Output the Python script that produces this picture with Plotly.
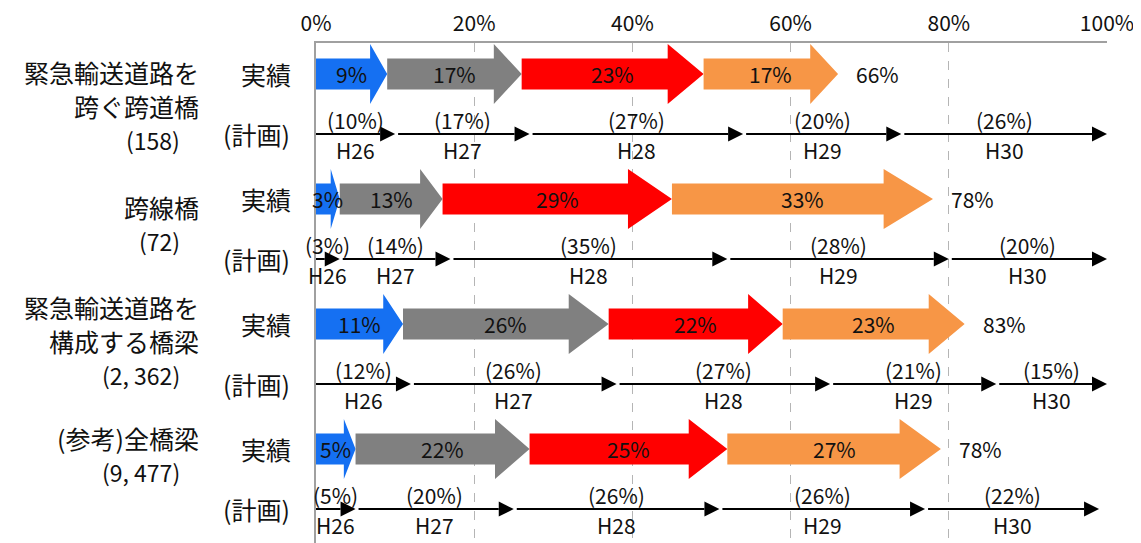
import plotly.graph_objects as go

# ---- data ----
categories = [["緊急輸送道路を", "跨ぐ跨道橋"], ["跨線橋"], ["緊急輸送道路を", "構成する橋梁"], ["(参考)全橋梁"]]
counts = ["(158)", "(72)", "(2, 362)", "(9, 477)"]
years = ["H26", "H27", "H28", "H29", "H30"]
actual_vals = [[9, 17, 23, 17], [3, 13, 29, 33], [11, 26, 22, 23], [5, 22, 25, 27]]
actual_totals = [66, 78, 83, 78]
plan_vals = [[10, 17, 27, 20, 26], [3, 14, 35, 28, 20], [12, 26, 27, 21, 15], [5, 20, 26, 26, 22]]
x_ticks = [0, 20, 40, 60, 80, 100]

# ---- styles / layout constants ----
colors = ["#1570F2", "#808080", "#FF0000", "#F79646"]
WIN_W, WIN_H = 1141, 543
OFF = 8  # page body margin offset
W, H = WIN_W - OFF, WIN_H - OFF
PLOT_L, PLOT_R, PLOT_T, PLOT_B = 316, 1107, 43, 543  # plot area in window pixels
L = PLOT_L - OFF
T = PLOT_T - OFF
R = W - (PLOT_R - OFF)
B = H - (PLOT_B - OFF)
PW = PLOT_R - PLOT_L
PX = PW / 100.0  # pixels per percent
NUM_FONT = "Noto Sans CJK JP"
JP_FONT = "Noto Sans CJK JP"
NUM_SIZE = 21
row_y0, row_step, plan_off = 74, 125, 60
label_top = [72, 207, 307, 438]
line_gap = 34


def px2paper(px):
    return (px - PLOT_L) / PW


fig = go.Figure()
fig.add_trace(go.Scatter(x=[None], y=[None], showlegend=False, hoverinfo="skip"))

shapes = []
annotations = []

for i in range(len(actual_vals)):
    ya = row_y0 + row_step * i
    yp = ya + plan_off

    # actual arrows
    cum = 0
    for j, v in enumerate(actual_vals[i]):
        x0, x1 = cum, cum + v
        h = min(0.17 * v + 0.63, 0.8 * v)
        xb = x1 - h
        bh, hh = 15.5, 30
        path = (f"M {x0},{ya - bh} L {xb},{ya - bh} L {xb},{ya - hh} L {x1},{ya} "
                f"L {xb},{ya + hh} L {xb},{ya + bh} L {x0},{ya + bh} Z")
        shapes.append(dict(type="path", path=path, xref="x", yref="y",
                           fillcolor=colors[j], line=dict(width=0), layer="above"))
        annotations.append(dict(x=(x0 + x1) / 2, y=ya, xref="x", yref="y", text=f"{v}%",
                                showarrow=False, font=dict(family=NUM_FONT, size=NUM_SIZE, color="#111")))
        cum = x1
    annotations.append(dict(x=cum + 16 / PX, y=ya, xref="x", yref="y", text=f"{actual_totals[i]}%",
                            xanchor="left", showarrow=False,
                            font=dict(family=NUM_FONT, size=NUM_SIZE, color="#111")))

    # plan arrows
    cum = 0
    for j, v in enumerate(plan_vals[i]):
        x0, x1 = cum, min(cum + v, 100)
        hl = 15 / PX
        start = x0 + (3 / PX if j > 0 else 0)
        shapes.append(dict(type="line", x0=start, x1=x1 - hl, y0=yp, y1=yp, xref="x", yref="y",
                           line=dict(color="#000", width=2), layer="above"))
        shapes.append(dict(type="path", path=f"M {x1 - hl},{yp - 7.5} L {x1},{yp} L {x1 - hl},{yp + 7.5} Z",
                           xref="x", yref="y", fillcolor="#000", line=dict(width=0), layer="above"))
        mid = (x0 + x1) / 2
        annotations.append(dict(x=mid, y=yp - 14, xref="x", yref="y", text=f"({v}%)",
                                showarrow=False, font=dict(family=NUM_FONT, size=NUM_SIZE, color="#111")))
        annotations.append(dict(x=mid, y=yp + 16, xref="x", yref="y", text=years[j],
                                showarrow=False, font=dict(family=NUM_FONT, size=NUM_SIZE, color="#111")))
        cum = cum + v

    # row labels (paper x so they show outside the axis range)
    annotations.append(dict(x=px2paper(293), y=ya, xref="paper", yref="y", text="実績", xanchor="right",
                            showarrow=False, font=dict(family=JP_FONT, size=25, color="#111")))
    annotations.append(dict(x=px2paper(292), y=yp, xref="paper", yref="y", text="(計画)", xanchor="right",
                            showarrow=False, font=dict(family=JP_FONT, size=25, color="#111")))
    lines = categories[i]
    for k, t in enumerate(lines):
        annotations.append(dict(x=px2paper(201), y=label_top[i] + line_gap * k, xref="paper", yref="y",
                                text=t, xanchor="right", showarrow=False,
                                font=dict(family=JP_FONT, size=25, color="#111")))
    annotations.append(dict(x=px2paper(182), y=label_top[i] + line_gap * len(lines), xref="paper", yref="y",
                            text=counts[i], xanchor="right", showarrow=False,
                            font=dict(family=JP_FONT, size=23, color="#111")))

fig.update_layout(
    width=W, height=H,
    margin=dict(l=L, r=R, t=T, b=B, autoexpand=False),
    paper_bgcolor="white", plot_bgcolor="white",
    showlegend=False,
    shapes=shapes, annotations=annotations,
    xaxis=dict(range=[0, 100], side="top", tickvals=x_ticks, ticktext=[f"{v}%" for v in x_ticks],
               showgrid=True, gridcolor="#b5b5b5", griddash="dash", gridwidth=1,
               showline=True, linecolor="#a0a0a0", linewidth=1.5, zeroline=False, ticks="",
               automargin=False, ticklabelstandoff=2,
               tickfont=dict(family=NUM_FONT, size=NUM_SIZE, color="#111"), fixedrange=True),
    yaxis=dict(range=[PLOT_B, PLOT_T], showgrid=False, zeroline=False, showticklabels=False, automargin=False,
               showline=True, linecolor="#a0a0a0", linewidth=1.5, ticks="", fixedrange=True),
)

fig.write_html("out.html")
